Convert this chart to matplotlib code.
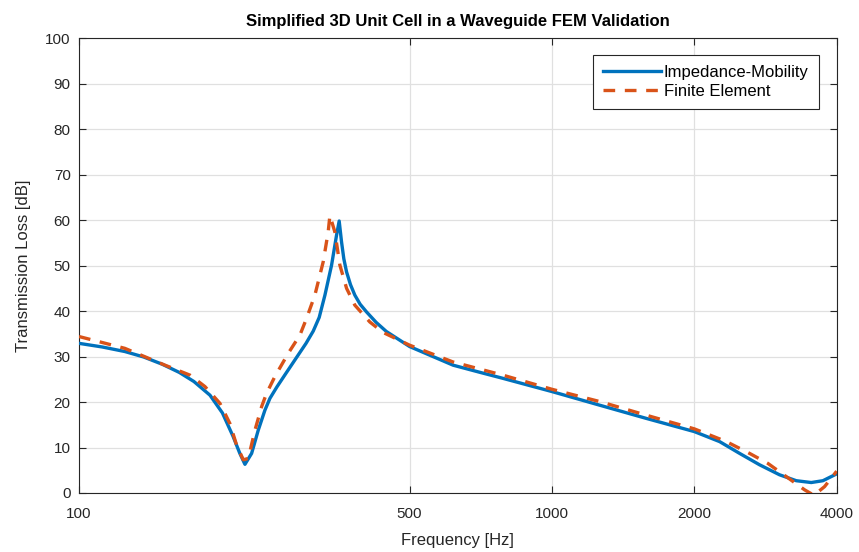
import numpy as np
import matplotlib
matplotlib.use("Agg")
import matplotlib.pyplot as plt

# Impedance-Mobility curve (frequency in Hz, TL in dB)
im_freq = [100, 112, 125, 137, 150, 163, 175, 189.2, 201, 211.8, 218.8, 224.3, 231.7,
           239.3, 247.2, 253.3, 262, 273, 288.4, 302, 312.8, 322, 331.1, 342,
           350.4, 354.9, 359, 363, 367.9, 375, 383, 393, 405.5, 425, 446.6, 500,
           618, 700, 788, 1000, 1262, 1583, 2000, 2262, 2494, 2748, 3029, 3286,
           3534, 3741, 4000]
im_tl = [32.9, 32.1, 31.1, 29.9, 28.3, 26.5, 24.5, 21.5, 17.6, 12.4, 8.7, 6.3, 8.7,
         13.8, 18.2, 20.8, 23.3, 26.1, 29.8, 32.9, 35.6, 38.6, 43.5, 50.1,
         56.7, 59.8, 55.2, 51.5, 48.6, 45.8, 43.5, 41.5, 39.8, 37.5, 35.5, 32.2,
         28.1, 26.6, 25.2, 22.3, 19.3, 16.4, 13.5, 11.3, 8.7, 6.2, 4.0, 2.7,
         2.3, 2.7, 4.2]

# Finite Element curve
fe_freq = [100, 125, 152, 171.7, 184.6, 198.6, 208.4, 215.4, 222.5, 228,
           235.5, 243.3, 249.2, 259.5, 276.9, 293.1, 302.8, 315.3, 328.3, 336.4,
           339.2, 347.5, 356.1, 367.9, 383, 412, 439.5, 500, 618, 788, 1000,
           1262, 1583, 2000, 2337, 2618, 2862, 3130, 3421, 3580, 3771, 4000]
fe_tl = [34.4, 31.8, 28.1, 25.9, 23.4, 19.7, 15.3, 10.5, 7.3, 7.6,
         13.8, 19.0, 21.9, 25.6, 30.7, 34.7, 38.4, 43.5, 50.8, 57.4,
         61.0, 57.4, 50.1, 45.0, 41.3, 37.6, 35.3, 32.5, 28.8, 25.9, 22.8,
         20.1, 17.1, 14.1, 11.3, 8.7, 6.5, 3.6, 0.7, -0.5, 1.4, 4.8]

xticks = [100, 500, 1000, 2000, 4000]
yticks = list(range(0, 101, 10))

plt.rcParams['font.family'] = ['Liberation Sans', 'DejaVu Sans']

fig = plt.figure(figsize=(8.59, 5.52), dpi=100)
ax = fig.add_axes([0.092, 0.1069, 0.882, 0.824])

ax.plot(im_freq, im_tl, color='#0072BD', lw=2.4, label='Impedance-Mobility', zorder=3)
ax.plot(fe_freq, fe_tl, color='#D95319', lw=2.4, ls=(0, (3.5, 2.9)), label='Finite Element', zorder=4)

ax.set_xscale('log')
ax.set_xlim(100, 4000)
ax.set_ylim(0, 100)
ax.set_xticks(xticks)
ax.set_xticklabels([str(t) for t in xticks])
ax.xaxis.set_minor_locator(matplotlib.ticker.NullLocator())
ax.set_yticks(yticks)

ax.grid(True, color='#e0e0e0', lw=0.9)
ax.set_axisbelow(True)
for s in ax.spines.values():
    s.set_color('#262626')
    s.set_linewidth(0.8)
ax.tick_params(direction='in', top=True, right=True, length=5, width=0.8,
               colors='#262626', labelsize=11, labelcolor='#262626')
ax.tick_params(axis='y', pad=6)
ax.tick_params(axis='x', pad=10)

ax.set_xlabel('Frequency [Hz]', fontsize=12, color='#262626', labelpad=9)
ax.set_ylabel('Transmission Loss [dB]', fontsize=12, color='#262626', labelpad=10)
ax.set_title('Simplified 3D Unit Cell in a Waveguide FEM Validation', fontsize=12,
             fontweight='bold', color='black', pad=9)

leg = ax.legend(loc='upper right', bbox_to_anchor=(0.9765, 0.963), fontsize=12,
                fancybox=False, framealpha=1, edgecolor='#262626',
                handlelength=3.5, borderpad=0.6, labelspacing=0.22, handletextpad=0.15,
                borderaxespad=0)
leg.get_frame().set_linewidth(0.8)

fig.savefig('out.png', dpi=100)
